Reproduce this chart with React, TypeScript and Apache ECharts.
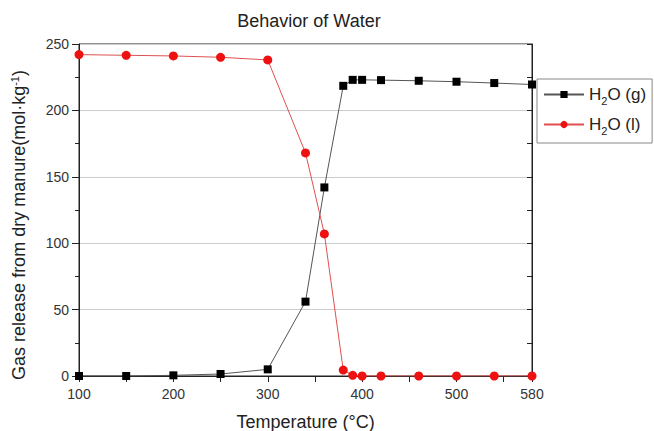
import React, { useEffect, useRef } from "react";
import * as echarts from "echarts";

const temperatures = [100, 150, 200, 250, 300, 340, 360, 380, 390, 400, 420, 460, 500, 540, 580];
const gasValues = [0, 0, 0.5, 1.5, 5, 56, 142, 218.5, 223, 223, 222.8, 222.3, 221.6, 220.6, 219.5];
const liquidValues = [242, 241.5, 241, 240, 238, 168, 107, 4.5, 0.5, 0, 0, 0, 0, 0, 0];
const xLabels = [100, 200, 300, 400, 500, 580];

export default function App() {
  const ref = useRef<HTMLDivElement>(null);
  useEffect(() => {
    if (!ref.current) return;
    const chart = echarts.init(ref.current, null, { renderer: "svg" });
    const font = "Liberation Sans, Arial, sans-serif";
    chart.setOption({
      animation: false,
      textStyle: { fontFamily: font },
      title: {
        text: "Behavior of Water",
        left: 304,
        textAlign: "center",
        top: 7,
        textStyle: { fontSize: 18, fontWeight: "normal", color: "#222", fontFamily: font },
      },
      grid: {
        left: 79,
        right: 122,
        top: 44,
        bottom: 55,
        show: true,
        borderColor: "#222",
        borderWidth: 1,
        containLabel: false,
        outerBoundsMode: "none",
      },
      legend: {
        orient: "vertical",
        left: 537,
        top: 79,
        borderColor: "#888",
        borderWidth: 1,
        padding: [7, 6, 7, 6],
        itemGap: 10,
        itemWidth: 40,
        itemHeight: 9,
        data: ["g", "l"],
        formatter: (name: string) => (name === "g" ? "H{s|2}O (g)" : "H{s|2}O (l)"),
        textStyle: {
          fontSize: 17,
          color: "#222",
          fontFamily: font,
          rich: { s: { fontSize: 11, padding: [12, 0, 0, 0], color: "#222", fontFamily: font } },
        },
      },
      xAxis: [
        {
          type: "value",
          min: 100,
          max: 580,
          interval: 50,
          name: "Temperature (°C)",
          nameLocation: "middle",
          nameGap: 37,
          nameTextStyle: { fontSize: 18, color: "#222", fontFamily: font },
          axisLine: { lineStyle: { color: "#222" } },
          axisTick: { show: true, length: 6, lineStyle: { color: "#222" } },
          axisLabel: {
            fontSize: 14,
            color: "#333",
            margin: 11,
            formatter: (v: number) => (xLabels.includes(v) ? String(v) : ""),
          },
          splitLine: { show: false },
        },
        {
          type: "value",
          position: "top",
          min: 100,
          max: 580,
          interval: 50,
          axisLine: { show: true, lineStyle: { color: "#222" } },
          axisTick: { show: true, inside: true, length: 5, lineStyle: { color: "#222" } },
          axisLabel: { show: false },
          splitLine: { show: false },
        },
      ],
      yAxis: [
        {
          type: "value",
          min: 0,
          max: 250,
          interval: 50,
          name: "Gas release from dry manure(mol·kg{sup|-1})",
          nameLocation: "middle",
          nameGap: 50,
          nameTextStyle: {
            fontSize: 18,
            color: "#222",
            fontFamily: font,
            padding: [0, 30, 0, 0],
            rich: { sup: { fontSize: 11, padding: [0, 0, 9, 0], color: "#222", fontFamily: font } },
          },
          axisLine: { show: true, lineStyle: { color: "#222" } },
          axisTick: { show: true, length: 7, lineStyle: { color: "#222" } },
          minorTick: { show: true, splitNumber: 2, length: 4, lineStyle: { color: "#222" } },
          axisLabel: { fontSize: 14, color: "#333", margin: 10 },
          splitLine: { show: true, lineStyle: { color: "#cccccc", width: 1 } },
        },
        {
          type: "value",
          position: "right",
          min: 0,
          max: 250,
          interval: 25,
          axisLine: { show: true, lineStyle: { color: "#222" } },
          axisTick: { show: true, inside: true, length: 5, lineStyle: { color: "#222" } },
          axisLabel: { show: false },
          splitLine: { show: false },
        },
      ],
      series: [
        {
          name: "g",
          type: "line",
          data: temperatures.map((t, i) => [t, gasValues[i]]),
          symbol: "rect",
          symbolSize: 8,
          itemStyle: { color: "#000" },
          lineStyle: { color: "#555", width: 1 },
          z: 3,
        },
        {
          name: "l",
          type: "line",
          data: temperatures.map((t, i) => [t, liquidValues[i]]),
          symbol: "circle",
          symbolSize: 9,
          itemStyle: { color: "#ee1111" },
          lineStyle: { color: "#e05050", width: 1 },
          z: 4,
        },
      ],
    });
    return () => chart.dispose();
  }, []);
  return <div ref={ref} style={{ width: 654, height: 431, position: "absolute", left: 0, top: 0, background: "#fff" }} />;
}
